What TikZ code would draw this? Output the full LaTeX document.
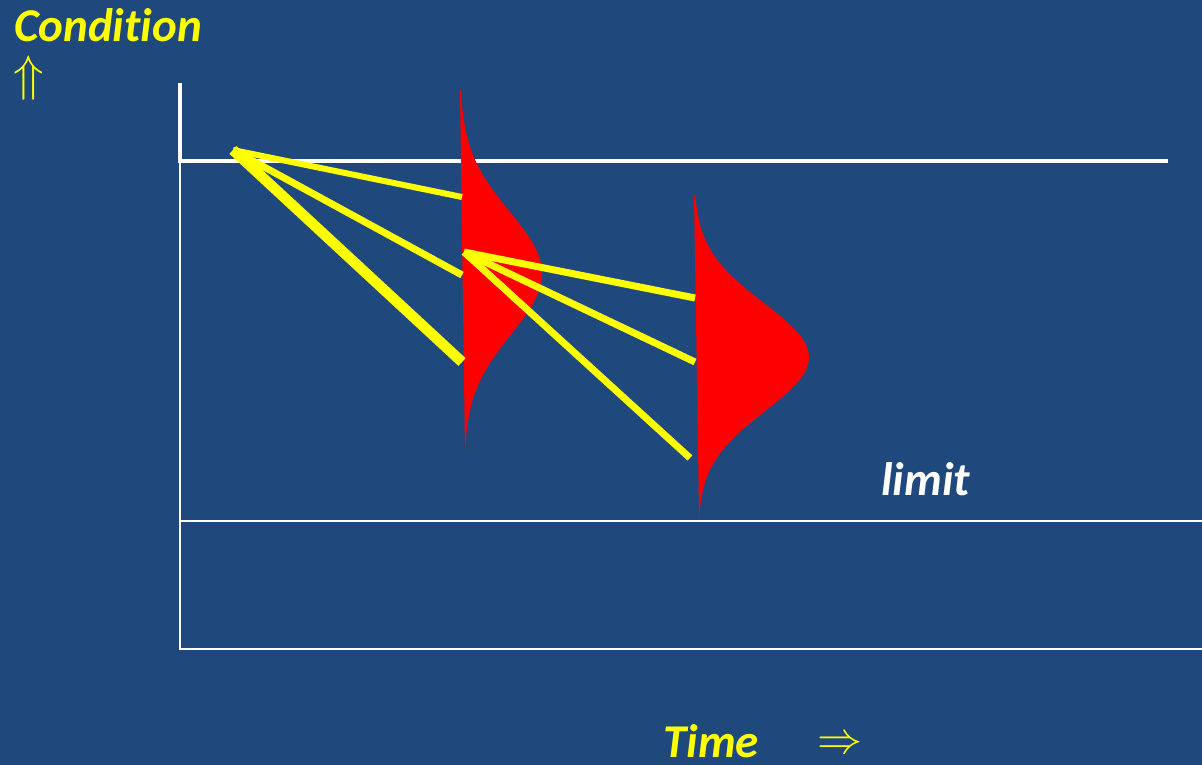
\documentclass[tikz,border=0pt]{standalone}
\usepackage{fontspec}
\setmainfont{Carlito}[Ligatures=NoCommon]
\usepackage{tikz}
\usetikzlibrary{positioning}
\definecolor{bg}{RGB}{31,73,125}
\definecolor{ge}{RGB}{255,255,0}
\definecolor{ro}{RGB}{255,0,0}
\newcommand{\GE}[1]{\textcolor{ge}{#1}}
\newcommand{\WI}[1]{\textcolor{white}{#1}}

\begin{document}
\begin{tikzpicture}[x=1pt,y=-1pt,
  word/.style={inner sep=0pt,text depth=0pt,font=\fontsize{47}{50}\selectfont\bfseries\itshape},
  sym/.style={inner sep=0pt},
  ray/.style={ge,line width=7pt},
  thinrule/.style={white,line width=2pt},
  thickrule/.style={white,line width=3.5pt}]
  % background
  \fill[bg] (0,0) rectangle (1202,765);
  \useasboundingbox (0,0) rectangle (1202,765);

  % axis labels
  \node[word,anchor=base west] (cond) at (14,42) {\GE{Condition}};
  \node[sym] (up) at (29,78) {\GE{\scalebox{5}{$\Uparrow$}}};
  \node[word,anchor=base west] (time) at (663,757) {\GE{Time}};
  \node[sym] (right) at (840,745) {\GE{\scalebox{4.5}{$\Rightarrow$}}};
  \node[word,anchor=base west] (limit) at (881,495) {\WI{limit}};

  % frame
  \coordinate (c0) at (180,83);
  \coordinate (c1) at (180,161);
  \coordinate (c2) at (1168,161);
  \coordinate (c3) at (180,649);
  \draw[thickrule] (c0) -- (c1) -- (c2);
  \draw[thinrule] (c1) -- (c3) -- (1202,649);
  \draw[thinrule] (180,521) -- (1202,521);

  % distributions
  \fill[ro] (460,91) -- plot[domain=-3:3,samples=80,smooth]
    ({460+0.7*(\x+3)+80*exp(-\x*\x/2)},{273+61*\x}) -- cycle;
  \fill[ro] (694,195) -- plot[domain=-3:3,samples=80,smooth]
    ({694+0.65*(\x+3)+113*exp(-\x*\x/2)},{357+54*\x}) -- cycle;

  % first fan
  \coordinate (o1) at (233,150);
  \coordinate (a1) at (462,197);
  \coordinate (a2) at (462,275);
  \coordinate (a3) at (462,362);
  \draw[ray,line width=6pt] (o1) -- (a1);
  \draw[ray] (o1) -- (a2);
  \draw[ray,line width=10.5pt] (o1) -- (a3);

  % second fan
  \coordinate (o2) at (464,252);
  \coordinate (b1) at (695,298);
  \coordinate (b2) at (695,362);
  \coordinate (b3) at (690,458);
  \draw[ray] (o2) -- (b1);
  \draw[ray] (o2) -- (b2);
  \draw[ray] (o2) -- (b3);
\end{tikzpicture}
\end{document}
